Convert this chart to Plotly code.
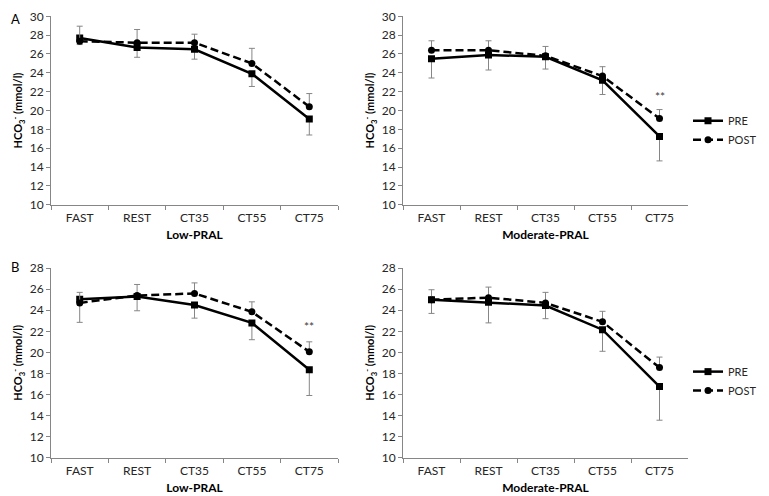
import plotly.graph_objects as go

# categories on the x axis
stages = ["FAST", "REST", "CT35", "CT55", "CT75"]

# A: Low-PRAL
a_low_pre = [27.7, 26.7, 26.5, 23.9, 19.1]
a_low_pre_err = [0.7, 1.05, 1.05, 1.35, 1.7]        # drawn downward
a_low_post = [27.35, 27.2, 27.2, 25.0, 20.4]
a_low_post_err = [1.6, 1.4, 0.9, 1.6, 1.4]          # drawn upward

# A: Moderate-PRAL
a_mod_pre = [25.5, 25.9, 25.7, 23.2, 17.25]
a_mod_pre_err = [2.05, 1.6, 1.3, 1.5, 2.6]
a_mod_post = [26.4, 26.4, 25.8, 23.65, 19.15]
a_mod_post_err = [1.0, 1.0, 1.0, 1.0, 0.95]

# B: Low-PRAL
b_low_pre = [25.05, 25.3, 24.5, 22.8, 18.35]
b_low_pre_err = [2.2, 1.35, 1.25, 1.6, 2.45]
b_low_post = [24.7, 25.4, 25.6, 23.85, 20.05]
b_low_post_err = [1.0, 1.05, 1.0, 0.95, 0.95]

# B: Moderate-PRAL
b_mod_pre = [25.0, 24.75, 24.45, 22.15, 16.75]
b_mod_pre_err = [1.3, 1.95, 1.25, 2.05, 3.2]
b_mod_post = [25.0, 25.2, 24.7, 22.9, 18.55]
b_mod_post_err = [0.95, 1.0, 1.0, 1.0, 1.0]

panels = [
    ("1", a_low_pre, a_low_pre_err, a_low_post, a_low_post_err, "Low-PRAL"),
    ("2", a_mod_pre, a_mod_pre_err, a_mod_post, a_mod_post_err, "Moderate-PRAL"),
    ("3", b_low_pre, b_low_pre_err, b_low_post, b_low_post_err, "Low-PRAL"),
    ("4", b_mod_pre, b_mod_pre_err, b_mod_post, b_mod_post_err, "Moderate-PRAL"),
]

W, H = 769, 496


# the page puts the plot 8px in from the corner (and cuts the far edges),
# so map wanted screen pixels to paper coords, squeezing y a touch to fit
def px(x):
    return (x - 8) / W


def py(y):
    return 1 - (0.9916 * y - 0.92) / H


x_doms = [[px(51), px(338)], [px(403), px(688)]]
y_doms = [[py(199.3), py(9.3)], [py(454.3), py(263.3)]]
y_ranges = [[10, 30], [10, 28]]

FONT = "Lato, 'Open Sans', sans-serif"
GREY = "#868686"

fig = go.Figure()

for i, (n, pre, pre_err, post, post_err, xtitle) in enumerate(panels):
    row, col = divmod(i, 2)
    xa = "x" if n == "1" else "x" + n
    ya = "y" if n == "1" else "y" + n
    leg = None
    if col == 1:
        leg = "legend" if row == 0 else "legend2"

    err_style = dict(color=GREY, thickness=1, width=3)
    fig.add_trace(go.Scatter(
        x=stages, y=pre, name="PRE", xaxis=xa, yaxis=ya,
        mode="lines+markers",
        line=dict(color="black", width=2.5),
        marker=dict(symbol="square", size=7, color="black"),
        error_y=dict(type="data", symmetric=False, array=[0] * 5,
                     arrayminus=pre_err, **err_style),
        showlegend=leg is not None, legend=leg or "legend",
    ))
    fig.add_trace(go.Scatter(
        x=stages, y=post, name="POST", xaxis=xa, yaxis=ya,
        mode="lines+markers",
        line=dict(color="black", width=2.5, dash="8px,4px"),
        marker=dict(symbol="circle", size=7, color="black"),
        error_y=dict(type="data", symmetric=False, array=post_err,
                     arrayminus=[0] * 5, **err_style),
        showlegend=leg is not None, legend=leg or "legend",
    ))

    axis_common = dict(showline=True, linecolor=GREY, linewidth=1,
                       ticks="outside", tickcolor=GREY, ticklen=4,
                       showgrid=False, zeroline=False, automargin=False,
                       ticklabeloverflow="allow",
                       tickfont=dict(family=FONT, size=12, color="#262626"))
    fig.layout["xaxis" + ("" if n == "1" else n)] = dict(
        domain=x_doms[col], anchor=ya, type="category",
        range=[-0.5, 4.5], tickson="boundaries", ticklabelstandoff=2,
        title=dict(text="<b>" + xtitle + "</b>", standoff=6,
                   font=dict(family=FONT, size=12, color="black")),
        **axis_common)
    fig.layout["yaxis" + ("" if n == "1" else n)] = dict(
        domain=y_doms[row], anchor=xa, range=y_ranges[row], dtick=2,
        title=dict(text="<b>HCO<sub>3</sub><sup>-</sup> (mmol/l)</b>",
                   standoff=4,
                   font=dict(family=FONT, size=11, color="black")),
        **axis_common)

# significance marks and panel labels
fig.add_annotation(x="CT75", y=21.45, xref="x2", yref="y2", text="**",
                   showarrow=False, font=dict(family=FONT, size=12, color="#404040"))
fig.add_annotation(x="CT75", y=22.5, xref="x3", yref="y3", text="**",
                   showarrow=False, font=dict(family=FONT, size=12, color="#404040"))
for label, ly in [("A", 12), ("B", 262)]:
    fig.add_annotation(x=px(15), y=py(ly), xref="paper", yref="paper", text=label,
                       xanchor="center", yanchor="middle", showarrow=False,
                       font=dict(family=FONT, size=13, color="black"))

legend_style = dict(xanchor="left", yanchor="top", bgcolor="rgba(0,0,0,0)",
                    font=dict(family=FONT, size=11, color="#262626"),
                    tracegroupgap=0)
fig.update_layout(
    width=W, height=H,
    margin=dict(l=0, r=0, t=0, b=0),
    paper_bgcolor="white", plot_bgcolor="white",
    legend=dict(x=px(688), y=py(100), **legend_style),
    legend2=dict(x=px(688), y=py(353), **legend_style),
)

fig.write_html("out.html")
